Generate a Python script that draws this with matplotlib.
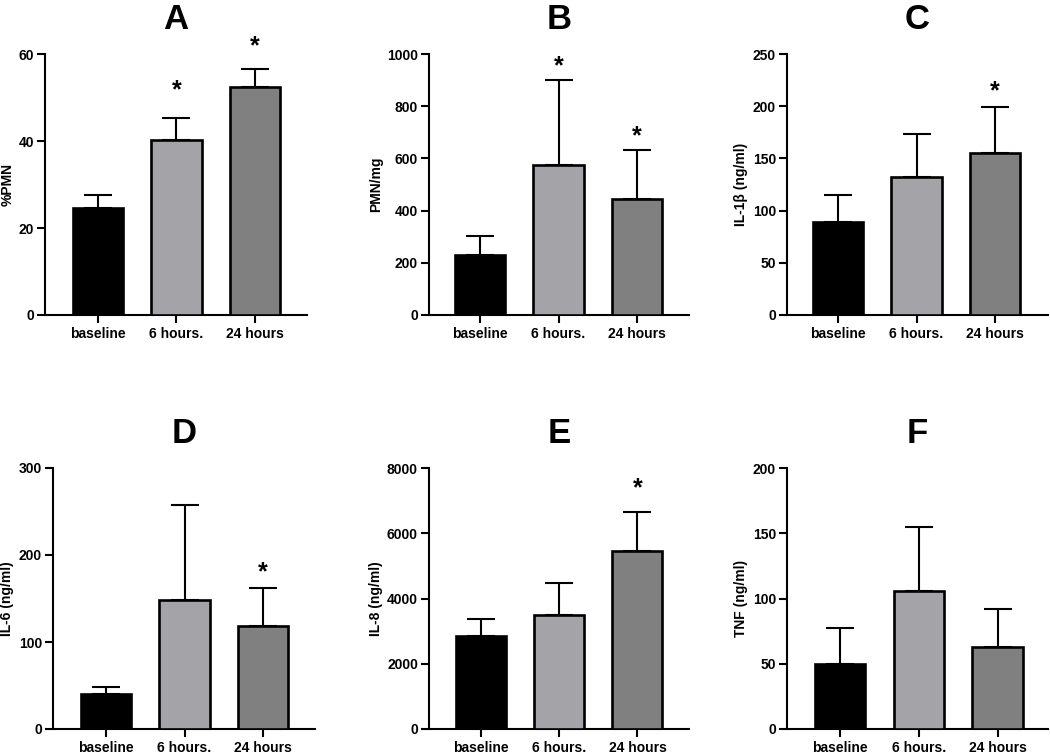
import matplotlib
matplotlib.use("Agg")
import matplotlib.pyplot as plt

plt.rcParams['font.family'] = ['Liberation Sans', 'DejaVu Sans']
plt.rcParams['font.weight'] = 'bold'

categories = ["baseline", "6 hours.", "24 hours"]

panel_letters = ["A", "B", "C", "D", "E", "F"]
ylabels = ["%PMN", "PMN/mg", "IL-1\u03b2 (ng/ml)", "IL-6 (ng/ml)", "IL-8 (ng/ml)", "TNF (ng/ml)"]

means_A = [24.6, 40.2, 52.3]
err_A = [3.0, 5.2, 4.2]
means_B = [231, 573, 446]
err_B = [73, 327, 188]
means_C = [89.3, 132.3, 154.7]
err_C = [25.2, 41.5, 44.9]
means_D = [39.8, 148.3, 118.4]
err_D = [8.5, 109.7, 43.3]
means_E = [2861, 3494, 5456]
err_E = [521, 980, 1185]
means_F = [49.8, 106.0, 63.1]
err_F = [27.3, 48.5, 29.1]

ymax = [60, 1000, 250, 300, 8000, 200]
ystep = [20, 200, 50, 100, 2000, 50]

# significance stars: (bar index, height in data units)
stars_A = [(1, 51.7), (2, 61.7)]
stars_B = [(1, 951), (2, 684)]
stars_C = [(2, 214)]
stars_D = [(2, 180)]
stars_E = [(2, 7387)]
stars_F = []

means = [means_A, means_B, means_C, means_D, means_E, means_F]
errs = [err_A, err_B, err_C, err_D, err_E, err_F]
stars = [stars_A, stars_B, stars_C, stars_D, stars_E, stars_F]

colors = ["#000000", "#a4a4a8", "#808080"]

W, H = 1050, 755
fig = plt.figure(figsize=(W / 100, H / 100), dpi=100)

# axes boxes in pixels: left, right, top, bottom
boxes = [(45, 307, 54, 315), (429, 689, 54, 315), (787, 1048, 54, 315),
         (53, 315, 468, 729), (429, 689, 468, 729), (787, 1048, 468, 729)]
xlims = [(-0.67, 2.66), (-0.65, 2.66), (-0.65, 2.675),
         (-0.675, 2.66), (-0.67, 2.66), (-0.675, 2.64)]

for i in range(6):
    l, r, t, b = boxes[i]
    ax = fig.add_axes([l / W, 1 - b / H, (r - l) / W, (b - t) / H])
    x = list(range(3))
    ax.bar(x, means[i], width=0.64, color=colors, edgecolor="black",
           linewidth=1.9, zorder=3)
    ax.errorbar(x, means[i], yerr=[[0, 0, 0], errs[i]], fmt="none",
                ecolor="black", elinewidth=1.5, capsize=10, capthick=1.5,
                zorder=2)
    for (k, yv) in stars[i]:
        ax.text(k, yv, "*", ha="center", va="center", fontsize=18,
                fontweight="bold")
    ax.set_xlim(*xlims[i])
    ax.set_ylim(0, ymax[i])
    ax.set_yticks(list(range(0, ymax[i] + 1, ystep[i])))
    ax.set_xticks(x)
    ax.set_xticklabels(categories)
    for s in ["top", "right"]:
        ax.spines[s].set_visible(False)
    for s in ["left", "bottom"]:
        ax.spines[s].set_linewidth(1.5)
    ax.tick_params(axis="both", direction="out", length=6, width=1.5,
                   labelsize=10, pad=2)
    ax.tick_params(axis="x", pad=3)
    for lab in ax.get_xticklabels() + ax.get_yticklabels():
        lab.set_fontweight("bold")
    ax.set_ylabel(ylabels[i], fontsize=10, fontweight="bold", labelpad=3)
    ax.set_title(panel_letters[i], fontsize=25, fontweight="bold", pad=18)

fig.savefig("out.png", dpi=100, facecolor="white")
